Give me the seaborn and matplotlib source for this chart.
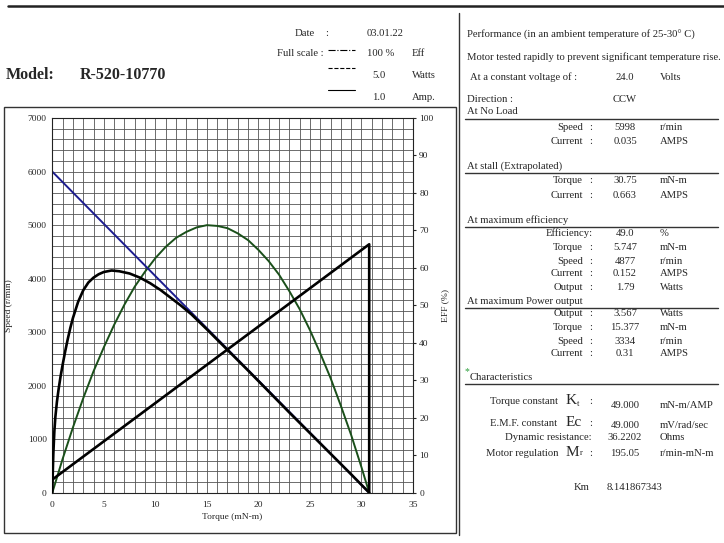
import matplotlib
matplotlib.use('Agg')
import matplotlib.pyplot as plt
import pandas as pd
import seaborn as sns
from matplotlib.lines import Line2D
from matplotlib.patches import Rectangle

# speed line, r/min against torque (mN-m)
speed_torque = [0, 30.75]
speed_rpm = [5998, 0]

# current, 1.0 A full scale (drops to 0 at stall)
current_torque = [0, 30.75, 30.75]
current_amp = [0.035, 0.663, 0.0]

# output power, 5.0 W full scale
power_torque = [0, 1, 2, 3, 4, 5, 6, 7, 8, 9, 10, 11, 12, 13, 14, 15, 16, 17, 18,
                19, 20, 21, 22, 23, 24, 25, 26, 27, 28, 29, 30, 30.75]
power_watt = [0, 0.45, 0.87, 1.26, 1.62, 1.94, 2.24, 2.51, 2.75, 2.95, 3.13, 3.28,
              3.40, 3.48, 3.54, 3.57, 3.56, 3.53, 3.46, 3.37, 3.24, 3.09, 2.91,
              2.69, 2.45, 2.17, 1.86, 1.53, 1.16, 0.77, 0.34, 0]

# efficiency curve as read on the right axis (%)
eff_torque = [0, 0.05, 0.1, 0.2, 0.3, 0.45, 0.6, 0.8, 1.0, 1.25, 1.5, 1.75, 2.0,
              2.5, 3.0, 3.5, 4.0, 4.5, 5.0, 5.75, 6.5, 7.5, 8.5, 9.5, 10.5, 11.5,
              12.5, 13.5, 15, 17, 19, 21, 23, 25, 27, 29, 30.75]
eff_pct = [0, 5.7, 10.4, 16.4, 20.3, 24.3, 27.4, 31.0, 34.1, 37.7, 41.0, 44.0, 46.6,
           50.9, 54.0, 56.1, 57.4, 58.3, 58.9, 59.3, 59.1, 58.5, 57.4, 55.9, 54.1,
           52.0, 49.9, 47.6, 43.6, 38.1, 32.6, 27.0, 21.4, 15.9, 10.4, 4.9, 0]

SPEED_FULL = 7000
AMP_FULL = 1.0
WATT_FULL = 5.0

# right hand table: (label, value, unit, y in px)
no_load = [('Speed', '5998', 'r/min', 127), ('Current', '0.035', 'AMPS', 141)]
stall = [('Torque', '30.75', 'mN-m', 181), ('Current', '0.663', 'AMPS', 195)]
max_eff = [('Efficiency', '49.0', '%', 233), ('Torque', '5.747', 'mN-m', 247),
           ('Speed', '4877', 'r/min', 261), ('Current', '0.152', 'AMPS', 274),
           ('Output', '1.79', 'Watts', 287)]
max_power = [('Output', '3.567', 'Watts', 314), ('Torque', '15.377', 'mN-m', 328),
             ('Speed', '3334', 'r/min', 341), ('Current', '0.31', 'AMPS', 354)]

W, H = 724, 543
FS = 7.7

sns.set_style('white')
plt.rcParams['font.family'] = ['Liberation Serif', 'DejaVu Serif']

fig = plt.figure(figsize=(W / 100, H / 100), dpi=100)


def px(x, y):
    return x / W, 1 - y / H


def txt(x, y, s, size=FS, ha='left', **kw):
    fig.text(*px(x, y), s, fontsize=size, ha=ha, va='center', **kw)


def hline(x0, x1, y, lw=1.0, color='#333333', ls='-'):
    fig.add_artist(Line2D([x0 / W, x1 / W], [1 - y / H, 1 - y / H], lw=lw, color=color, ls=ls))


def vline(x, y0, y1, lw=1.0, color='#333333'):
    fig.add_artist(Line2D([x / W, x / W], [1 - y0 / H, 1 - y1 / H], lw=lw, color=color))


# frames
hline(8, 724, 6, lw=1.8, color='#222222')
fig.add_artist(Rectangle(px(4, 533), 452 / W, 426 / H, fill=False, lw=1.0, ec='#333333'))
vline(459, 13, 535)

# chart
ax = fig.add_axes([52.3 / W, 1 - 492.7 / H, 360.7 / W, 374.7 / H])

speed_df = pd.DataFrame({'torque': speed_torque, 'value': speed_rpm})
current_df = pd.DataFrame({'torque': current_torque,
                           'value': [a / AMP_FULL * SPEED_FULL for a in current_amp]})
power_df = pd.DataFrame({'torque': power_torque,
                         'value': [p / WATT_FULL * SPEED_FULL for p in power_watt]})
eff_df = pd.DataFrame({'torque': eff_torque, 'eff': eff_pct})

sns.lineplot(data=power_df, x='torque', y='value', ax=ax, color='#1a4f1a', lw=1.4)
sns.lineplot(data=speed_df, x='torque', y='value', ax=ax, color='#1c1c8f', lw=1.4)
sns.lineplot(data=current_df, x='torque', y='value', ax=ax, color='black', lw=1.9,
             estimator=None, sort=False)

ax.set_xlim(0, 35)
ax.set_ylim(0, 7000)
ax.set_xticks(range(0, 36, 5))
ax.set_xticks(range(0, 36), minor=True)
ax.set_yticks(range(0, 7001, 1000))
ax.set_yticks(range(0, 7001, 200), minor=True)
ax.grid(which='both', color='#555555', lw=0.6)
ax.set_axisbelow(True)
ax.tick_params(which='both', labelsize=6.8, length=0, pad=4)
ax.tick_params(axis='x', pad=6)
ax.set_xlabel('Torque (mN-m)', fontsize=6.8)
ax.set_ylabel('Speed (r/min)', fontsize=6.8)
ax.xaxis.set_label_coords(0.498, -0.055)
ax.yaxis.set_label_coords(-0.109, 0.5)
for s in ax.spines.values():
    s.set_color('#222222')
    s.set_linewidth(0.8)

ax2 = ax.twinx()
sns.lineplot(data=eff_df, x='torque', y='eff', ax=ax2, color='black', lw=1.9)
ax2.set_ylim(0, 100)
ax2.set_yticks(range(0, 101, 10))
ax2.tick_params(labelsize=6.8, length=2, pad=2.5)
ax2.set_ylabel('EFF (%)', fontsize=6.8)
ax2.yaxis.set_label_coords(1.078, 0.5)
ax2.grid(False)
for s in ax2.spines.values():
    s.set_visible(False)

# header
txt(6, 75, 'Model:', size=11.5, weight='bold')
txt(80, 75, 'R-520-10770', size=11.5, weight='bold')
txt(295, 33, 'Date')
txt(325, 33, ':')
txt(367, 33, '03.01.22')
txt(277, 54, 'Full scale :')
txt(367, 54, '100 %')
txt(412, 54, 'Eff')
txt(372, 76, '5.0')
txt(412, 76, 'Watts')
txt(372, 98, '1.0')
txt(412, 98, 'Amp.')
hline(328, 355, 50, lw=0.8, color='black', ls='-.')
hline(328, 355, 68, lw=0.8, color='black', ls='--')
hline(328, 355, 90, lw=0.8, color='black')

# right panel
txt(467, 35, 'Performance (in an ambient temperature of 25-30\u00b0 C)')
txt(467, 57, 'Motor tested rapidly to prevent significant temperature rise.')
txt(470, 77, 'At a constant voltage of :')
txt(625, 77, '24.0', ha='center')
txt(660, 77, 'Volts')
txt(467, 99, 'Direction :')
txt(625, 99, 'CCW', ha='center')

sections = [('At No Load', 112, no_load), ('At stall (Extrapolated)', 166, stall),
            ('At maximum efficiency', 220, max_eff), ('At maximum Power output', 301, max_power)]
for title, ty, rows in sections:
    txt(467, ty, title)
    hline(465, 718, ty + 7)
    for label, value, unit, y in rows:
        if label == 'Efficiency':
            txt(593, y, 'Efficiency:', ha='right')
        else:
            txt(583, y, label, ha='right')
            txt(589, y, ':')
        txt(625, y, value, ha='center')
        txt(660, y, unit)

txt(465, 372, '*', size=7, color='#2a9d3a')
txt(470, 378, 'Characteristics')
hline(465, 718, 384)

txt(558, 402, 'Torque constant', ha='right')
txt(566, 400, 'K', size=11)
txt(577, 404, 't', size=6)
txt(589, 402, ':')
txt(625, 405, '49.000', ha='center')
txt(660, 405, 'mN-m/AMP')

txt(557, 424, 'E.M.F. constant', ha='right')
txt(566, 422, 'Ec', size=11)
txt(589, 424, ':')
txt(625, 425, '49.000', ha='center')
txt(660, 425, 'mV/rad/sec')

txt(592, 437, 'Dynamic resistance:', ha='right')
txt(625, 437, '36.2202', ha='center')
txt(660, 437, 'Ohms')

txt(558, 453, 'Motor regulation', ha='right')
txt(566, 452, 'M', size=11)
txt(580, 453, 'r', size=6)
txt(589, 453, ':')
txt(625, 453, '195.05', ha='center')
txt(660, 453, 'r/min-mN-m')

txt(590, 487, 'Km', ha='right')
txt(607, 487, '8.141867343')

fig.savefig('out.png', dpi=100)
plt.close('all')
